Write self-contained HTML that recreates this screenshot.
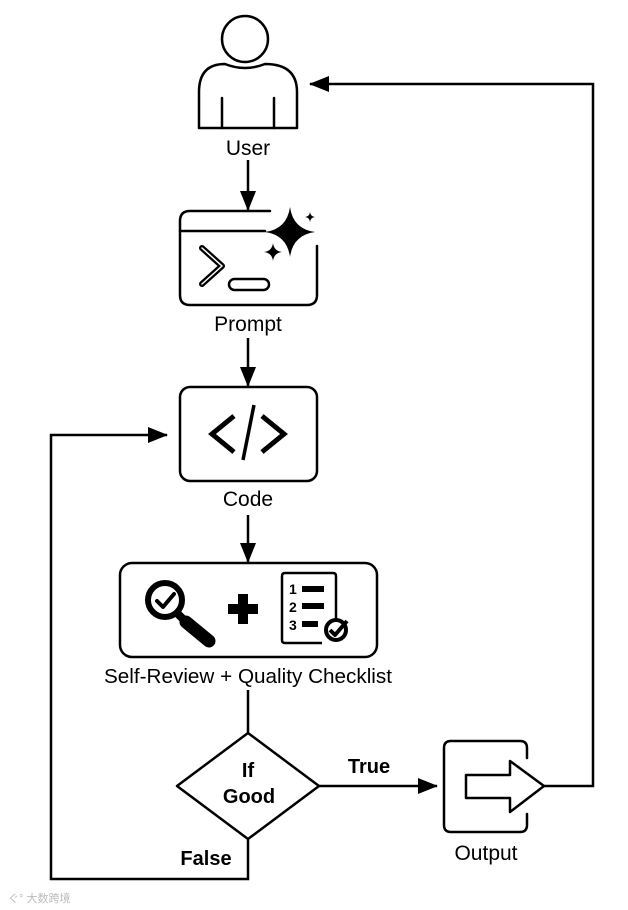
<!DOCTYPE html>
<html><head><style>
html,body{margin:0;padding:0;background:#fff;}
svg{display:block;}
text{font-family:"Liberation Sans",Arial,sans-serif;fill:#000;}
</style></head><body>
<svg width="628" height="910" viewBox="0 0 628 910" xmlns="http://www.w3.org/2000/svg">
<defs>
<marker id="ah2" markerWidth="20" markerHeight="16" refX="19" refY="8" orient="auto" markerUnits="userSpaceOnUse">
<path d="M0,0 L20,8 L0,16 Z" fill="#000"/>
</marker>
</defs>
<g fill="none" stroke="#000" stroke-width="2.5" stroke-linejoin="round" stroke-linecap="round">
<circle cx="245" cy="39" r="23"/>
<path d="M199,128 L199,92 Q199,64 225,64 Q235,68 245,68 Q255,68 265,64 Q297,64 297,92 L297,128 Z"/>
<line x1="222" y1="98" x2="222" y2="128"/>
<line x1="274" y1="98" x2="274" y2="128"/>
<path d="M270,211 L190,211 Q180,211 180,221 L180,295 Q180,305 190,305 L307,305 Q317,305 317,295 L317,246"/>
<line x1="180" y1="231" x2="265" y2="231"/>
<path d="M202,248 L222,266 L202,284" stroke-width="6"/>
<path d="M202,248 L222,266 L202,284" stroke="#fff" stroke-width="1.5"/>
<rect x="229" y="279" width="40" height="11" rx="5.5"/>
<rect x="180" y="387" width="137" height="94" rx="10"/>
<rect x="120" y="563" width="257" height="94" rx="12"/>
<path d="M248,733 L319,786 L248,839 L177,786 Z"/>
<path d="M527,758 L527,748 Q527,741 520,741 L451,741 Q444,741 444,748 L444,825 Q444,832 451,832 L520,832 Q527,832 527,825 L527,814"/>
<path d="M466,775 L510,775 L510,761 L544,786 L510,812 L510,798 L466,798 Z"/>
</g>
<path d="M290,207 Q293,229 315,232 Q293,235 290,257 Q287,235 265,232 Q287,229 290,207 Z" fill="#000"/>
<path d="M273,243 Q274,251 282,252 Q274,253 273,261 Q272,253 264,252 Q272,251 273,243 Z" fill="#000"/>
<path d="M310,212 Q310.5,216.5 315,217 Q310.5,217.5 310,222 Q309.5,217.5 305,217 Q309.5,216.5 310,212 Z" fill="#000"/>
<g stroke="#000" fill="none" stroke-width="5" stroke-linecap="butt" stroke-linejoin="miter">
<path d="M234,416 L212,434 L234,452"/>
<path d="M262,416 L284,434 L262,452"/>
<line x1="254" y1="405" x2="243" y2="460" stroke-width="3.5"/>
</g>
<g stroke="#000" fill="none" stroke-linecap="round" stroke-linejoin="round">
<circle cx="165" cy="600" r="17" stroke-width="6"/>
<path d="M157,601 L163,607 L174,594" stroke-width="4"/>
<line x1="178" y1="614" x2="187" y2="623" stroke-width="8"/>
<line x1="186" y1="622" x2="209" y2="641" stroke-width="13"/>
</g>
<rect x="238" y="594" width="10" height="30" fill="#000"/>
<rect x="228" y="604" width="30" height="10" fill="#000"/>
<g stroke="#000" fill="none" stroke-width="2.5" stroke-linejoin="round">
<path d="M336,619 L336,576 Q336,573 333,573 L285,573 Q282,573 282,576 L282,640 Q282,643 285,643 L322,643"/>
<circle cx="336" cy="630" r="10" stroke-width="4"/>
<path d="M330,630 L335,635 L347,621" stroke-width="4"/>
</g>
<text x="289" y="594" font-size="14" font-weight="bold">1</text>
<text x="289" y="612" font-size="14" font-weight="bold">2</text>
<text x="289" y="630" font-size="14" font-weight="bold">3</text>
<rect x="302" y="586" width="22" height="6" fill="#000"/>
<rect x="302" y="603" width="22" height="6" fill="#000"/>
<rect x="302" y="621" width="16" height="6" fill="#000"/>
<g stroke="#000" stroke-width="2.5" fill="none">
<line x1="248" y1="160" x2="248" y2="210" marker-end="url(#ah2)"/>
<line x1="248" y1="338" x2="248" y2="386" marker-end="url(#ah2)"/>
<line x1="248" y1="515" x2="248" y2="562" marker-end="url(#ah2)"/>
<line x1="248" y1="690" x2="248" y2="733"/>
<polyline points="248,839 248,879 51,879 51,435 167,435" marker-end="url(#ah2)"/>
<line x1="319" y1="786" x2="437" y2="786" marker-end="url(#ah2)"/>
<polyline points="544,786 593,786 593,84 310,84" marker-end="url(#ah2)"/>
</g>
<text x="248" y="155" text-anchor="middle" font-size="21">User</text>
<text x="248" y="331" text-anchor="middle" font-size="21">Prompt</text>
<text x="248" y="506" text-anchor="middle" font-size="21">Code</text>
<text x="248" y="683" text-anchor="middle" font-size="20" textLength="288" lengthAdjust="spacingAndGlyphs">Self-Review + Quality Checklist</text>
<text x="248" y="777" text-anchor="middle" font-size="20" font-weight="bold">If</text>
<text x="249" y="803" text-anchor="middle" font-size="20" font-weight="bold">Good</text>
<text x="369" y="773" text-anchor="middle" font-size="20" font-weight="bold">True</text>
<text x="206" y="865" text-anchor="middle" font-size="20" font-weight="bold">False</text>
<text x="486" y="860" text-anchor="middle" font-size="21">Output</text>
<text x="8" y="902" font-size="11" style="fill:#bbb">ぐ° 大数跨境</text>
</svg>
</body></html>
